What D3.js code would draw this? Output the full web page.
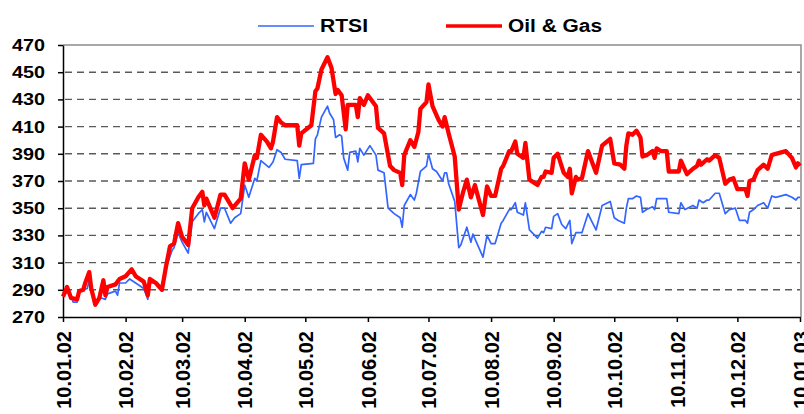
<!DOCTYPE html>
<html>
<head>
<meta charset="utf-8">
<script src="https://cdn.jsdelivr.net/npm/d3@7"></script>
<style>
  body { margin: 0; background: #fff; }
  svg { display: block; font-family: "Liberation Sans", Arial, sans-serif; font-weight: bold; }
</style>
</head>
<body>
<div id="chart"></div>
<script>
var svgWidth = 804;
var svgHeight = 414;

// plot box in pixels
var plot = { left: 63, right: 800, top: 45, bottom: 317 };

var tickDates = ["10.01.02", "10.02.02", "10.03.02", "10.04.02", "10.05.02", "10.06.02",
    "10.07.02", "10.08.02", "10.09.02", "10.10.02", "10.11.02", "10.12.02", "10.01.03"];
var yTicks = [270, 290, 310, 330, 350, 370, 390, 410, 430, 450, 470];

var rtsiDates = ["10.01.02", "13.01.02", "15.01.02", "17.01.02", "18.01.02", "22.01.02", "23.01.02",
    "26.01.02", "29.01.02", "31.01.02", "01.02.02", "05.02.02", "06.02.02", "07.02.02", "10.02.02",
    "12.02.02", "15.02.02", "19.02.02", "21.02.02", "22.02.02", "25.02.02", "28.02.02", "02.03.02",
    "05.03.02", "06.03.02", "08.03.02", "10.03.02", "13.03.02", "15.03.02", "18.03.02", "20.03.02",
    "21.03.02", "22.03.02", "26.03.02", "29.03.02", "31.03.02", "03.04.02", "05.04.02", "08.04.02",
    "10.04.02", "12.04.02", "15.04.02", "16.04.02", "18.04.02", "22.04.02", "24.04.02", "26.04.02",
    "28.04.02", "30.04.02", "06.05.02", "07.05.02", "08.05.02", "14.05.02", "15.05.02", "16.05.02",
    "18.05.02", "21.05.02", "22.05.02", "24.05.02", "25.05.02", "27.05.02", "28.05.02", "29.05.02",
    "31.05.02", "01.06.02", "04.06.02", "05.06.02", "06.06.02", "08.06.02", "11.06.02", "14.06.02",
    "15.06.02", "18.06.02", "20.06.02", "23.06.02", "26.06.02", "27.06.02", "28.06.02", "01.07.02",
    "03.07.02", "04.07.02", "06.07.02", "09.07.02", "10.07.02", "12.07.02", "14.07.02", "17.07.02",
    "18.07.02", "19.07.02", "20.07.02", "23.07.02", "25.07.02", "26.07.02", "29.07.02", "31.07.02",
    "01.08.02", "06.08.02", "08.08.02", "10.08.02", "12.08.02", "15.08.02", "16.08.02", "19.08.02",
    "20.08.02", "22.08.02", "23.08.02", "26.08.02", "27.08.02", "29.08.02", "02.09.02", "04.09.02",
    "05.09.02", "06.09.02", "09.09.02", "10.09.02", "12.09.02", "14.09.02", "16.09.02", "18.09.02",
    "19.09.02", "21.09.02", "24.09.02", "27.09.02", "29.09.02", "01.10.02", "04.10.02", "08.10.02",
    "10.10.02", "12.10.02", "15.10.02", "16.10.02", "17.10.02", "19.10.02", "21.10.02", "23.10.02",
    "24.10.02", "26.10.02", "29.10.02", "30.10.02", "31.10.02", "05.11.02", "06.11.02", "11.11.02",
    "12.11.02", "14.11.02", "18.11.02", "20.11.02", "21.11.02", "23.11.02", "25.11.02", "26.11.02",
    "29.11.02", "01.12.02", "04.12.02", "06.12.02", "09.12.02", "11.12.02", "14.12.02", "15.12.02",
    "16.12.02", "18.12.02", "20.12.02", "23.12.02", "25.12.02", "27.12.02", "29.12.02", "03.01.03",
    "06.01.03", "08.01.03", "09.01.03", "10.01.03"];
var rtsiValues = [285, 290, 281, 281, 289, 291, 297,
    280, 284, 283, 287, 289, 286, 295, 295,
    298, 295, 291, 283, 295, 295, 291, 306,
    319, 321, 332, 325, 317, 340, 346, 349,
    340, 347, 335, 350, 350, 339, 343, 346,
    367, 358, 372, 370, 385, 380, 384, 393,
    391, 386, 385, 372, 382, 383, 401, 404,
    417, 425, 420, 415, 402, 404, 403, 387,
    378, 391, 392, 384, 394, 389, 396, 389,
    378, 376, 350, 346, 343, 336, 352, 360,
    356, 361, 377, 381, 390, 379, 377, 370,
    376, 376, 368, 355, 321, 323, 336, 325,
    331, 314, 330, 324, 324, 339, 341, 349,
    349, 354, 347, 345, 354, 334, 328, 333,
    332, 336, 335, 344, 346, 338, 335, 341,
    324, 332, 332, 346, 340, 334, 352, 355,
    343, 341, 339, 350, 357, 357, 359, 358,
    347, 349, 351, 349, 357, 357, 347, 346,
    354, 349, 352, 350, 356, 354, 356, 356,
    361, 361, 346, 349, 350, 341, 341, 339,
    347, 349, 352, 354, 350, 359, 358, 360,
    358, 356, 358, 358];

var oilDates = ["10.01.02", "12.01.02", "14.01.02", "17.01.02", "18.01.02", "20.01.02", "21.01.02",
    "23.01.02", "24.01.02", "26.01.02", "28.01.02", "30.01.02", "31.01.02", "01.02.02", "05.02.02",
    "07.02.02", "10.02.02", "13.02.02", "15.02.02", "19.02.02", "21.02.02", "22.02.02", "25.02.02",
    "28.02.02", "02.03.02", "04.03.02", "06.03.02", "08.03.02", "10.03.02", "13.03.02", "15.03.02",
    "18.03.02", "20.03.02", "21.03.02", "22.03.02", "26.03.02", "29.03.02", "31.03.02", "04.04.02",
    "08.04.02", "10.04.02", "12.04.02", "15.04.02", "16.04.02", "18.04.02", "21.04.02", "23.04.02",
    "24.04.02", "26.04.02", "28.04.02", "30.04.02", "06.05.02", "07.05.02", "08.05.02", "13.05.02",
    "15.05.02", "16.05.02", "18.05.02", "21.05.02", "23.05.02", "25.05.02", "26.05.02", "28.05.02",
    "30.05.02", "31.05.02", "04.06.02", "05.06.02", "06.06.02", "08.06.02", "10.06.02", "14.06.02",
    "15.06.02", "18.06.02", "21.06.02", "23.06.02", "26.06.02", "27.06.02", "28.06.02", "01.07.02",
    "03.07.02", "05.07.02", "06.07.02", "09.07.02", "10.07.02", "12.07.02", "15.07.02", "17.07.02",
    "18.07.02", "20.07.02", "23.07.02", "25.07.02", "27.07.02", "29.07.02", "31.07.02", "02.08.02",
    "06.08.02", "08.08.02", "10.08.02", "12.08.02", "15.08.02", "16.08.02", "19.08.02", "20.08.02",
    "22.08.02", "23.08.02", "26.08.02", "27.08.02", "29.08.02", "02.09.02", "04.09.02", "05.09.02",
    "06.09.02", "09.09.02", "10.09.02", "12.09.02", "15.09.02", "17.09.02", "18.09.02", "19.09.02",
    "21.09.02", "22.09.02", "24.09.02", "27.09.02", "29.09.02", "01.10.02", "04.10.02", "08.10.02",
    "10.10.02", "13.10.02", "15.10.02", "16.10.02", "17.10.02", "19.10.02", "21.10.02", "23.10.02",
    "24.10.02", "26.10.02", "29.10.02", "30.10.02", "31.10.02", "02.11.02", "05.11.02", "06.11.02",
    "11.11.02", "12.11.02", "15.11.02", "18.11.02", "20.11.02", "21.11.02", "22.11.02", "25.11.02",
    "26.11.02", "29.11.02", "01.12.02", "04.12.02", "06.12.02", "08.12.02", "10.12.02", "14.12.02",
    "15.12.02", "16.12.02", "18.12.02", "20.12.02", "23.12.02", "25.12.02", "27.12.02", "29.12.02",
    "03.01.03", "06.01.03", "08.01.03", "09.01.03", "10.01.03"];
var oilValues = [285, 292, 284, 283, 289, 290, 295,
    303, 291, 279, 284, 297, 286, 292, 294,
    298, 300, 305, 300, 296, 286, 298, 295,
    290, 307, 322, 324, 339, 329, 323, 350,
    358, 362, 352, 357, 343, 360, 360, 350,
    357, 383, 371, 389, 387, 404, 399, 394,
    399, 417, 413, 411, 411, 396, 405, 411,
    436, 438, 452, 461, 453, 434, 437, 433,
    408, 426, 426, 417, 431, 426, 433, 425,
    409, 405, 381, 378, 376, 367, 389, 400,
    395, 406, 423, 428, 441, 425, 415, 410,
    417, 405, 388, 349, 361, 371, 358, 367,
    345, 366, 359, 359, 379, 381, 392, 392,
    399, 390, 387, 398, 371, 367, 373, 373,
    377, 376, 387, 390, 376, 373, 379, 361,
    373, 371, 372, 392, 384, 376, 396, 401,
    383, 382, 379, 396, 405, 404, 407, 402,
    388, 389, 392, 387, 394, 392, 392, 377,
    377, 385, 375, 379, 381, 385, 382, 386,
    385, 389, 387, 368, 371, 372, 364, 364,
    359, 370, 371, 378, 382, 379, 389, 390,
    392, 387, 380, 383, 381];

var parseDate = d3.timeParse("%d.%m.%y");
var formatDate = d3.timeFormat("%d.%m.%y");

var rtsi = rtsiDates.map((d, i) => ({ date: parseDate(d), value: rtsiValues[i] }));
var oil = oilDates.map((d, i) => ({ date: parseDate(d), value: oilValues[i] }));

var svg = d3.select("#chart")
    .append("svg")
    .attr("width", svgWidth)
    .attr("height", svgHeight);

var xTimeScale = d3.scaleTime()
    .domain([parseDate(tickDates[0]), parseDate(tickDates[tickDates.length - 1])])
    .range([plot.left, plot.right]);

var yLinearScale = d3.scaleLinear()
    .domain([270, 470])
    .range([plot.bottom, plot.top]);

// dashed gridlines
svg.append("g")
    .selectAll("line")
    .data(yTicks.slice(1, -1))
    .enter()
    .append("line")
      .attr("x1", plot.left + 2)
      .attr("x2", plot.right)
      .attr("y1", d => yLinearScale(d))
      .attr("y2", d => yLinearScale(d))
      .attr("stroke", "#5a5a5a")
      .attr("stroke-width", 1.4)
      .attr("stroke-dasharray", "7,5");

// grey frame top and right
svg.append("path")
    .attr("d", `M${plot.left},${yLinearScale(470)}H${plot.right + 1}V${plot.bottom}`)
    .attr("fill", "none")
    .attr("stroke", "#8c8c8c")
    .attr("stroke-width", 1.5);

var leftAxis = d3.axisLeft(yLinearScale)
    .tickValues(yTicks)
    .tickSize(5)
    .tickSizeOuter(0)
    .tickPadding(13);

var yAxis = svg.append("g")
    .attr("transform", `translate(${plot.left}, 0)`)
    .call(leftAxis);

yAxis.selectAll("text")
    .attr("font-size", 17)
    .attr("font-weight", "bold")
    .attr("font-family", "'Liberation Sans', Arial, sans-serif")
    .attr("fill", "#000")
    .attr("textLength", 33)
    .attr("lengthAdjust", "spacingAndGlyphs");

var bottomAxis = d3.axisBottom(xTimeScale)
    .tickValues(tickDates.map(parseDate))
    .tickFormat(formatDate)
    .tickSize(5)
    .tickSizeOuter(0);

var xAxis = svg.append("g")
    .attr("transform", `translate(0, ${plot.bottom})`)
    .call(bottomAxis);

xAxis.selectAll("text")
    .attr("transform", "rotate(-90)")
    .attr("x", -14)
    .attr("y", 0)
    .attr("dy", "0.36em")
    .style("text-anchor", "end")
    .attr("font-size", 20)
    .attr("font-weight", "bold")
    .attr("font-family", "'Liberation Sans', Arial, sans-serif")
    .attr("fill", "#000");

svg.selectAll(".domain, .tick line")
    .attr("stroke", "#000")
    .attr("stroke-width", 1.5);

var line = d3.line()
    .x(d => xTimeScale(d.date))
    .y(d => yLinearScale(d.value));

svg.append("path")
    .datum(rtsi)
    .attr("d", line)
    .attr("fill", "none")
    .attr("stroke", "#3366ff")
    .attr("stroke-width", 1.7)
    .attr("stroke-linejoin", "round");

svg.append("path")
    .datum(oil)
    .attr("d", line)
    .attr("fill", "none")
    .attr("stroke", "#ff0000")
    .attr("stroke-width", 4.3)
    .attr("stroke-linejoin", "round");

// legend
var legendItems = [
    { name: "RTSI", color: "#3366ff", width: 1.7, x: 258, textLen: 48 },
    { name: "Oil & Gas", color: "#ff0000", width: 3.5, x: 446, textLen: 94 }
];

var legend = svg.append("g");

legend.selectAll("line")
    .data(legendItems)
    .enter()
    .append("line")
      .attr("x1", d => d.x)
      .attr("x2", d => d.x + 56)
      .attr("y1", 26)
      .attr("y2", 26)
      .attr("stroke", d => d.color)
      .attr("stroke-width", d => d.width);

legend.selectAll("text")
    .data(legendItems)
    .enter()
    .append("text")
      .attr("x", d => d.x + 62)
      .attr("y", 32)
      .attr("font-size", 18)
      .attr("textLength", d => d.textLen)
      .attr("lengthAdjust", "spacingAndGlyphs")
      .text(d => d.name);
</script>
</body>
</html>
